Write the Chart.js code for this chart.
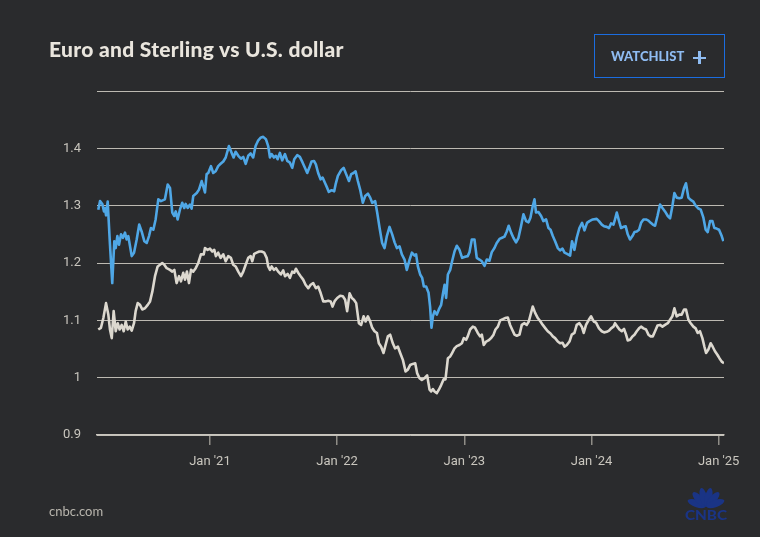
<!DOCTYPE html>
<html>
<head>
<meta charset="utf-8">
<script src="https://cdn.jsdelivr.net/npm/chart.js@4.4.1/dist/chart.umd.min.js"></script>
<style>
html,body{margin:0;padding:0;background:#2a2b2d;}
#wrap{position:relative;width:760px;height:537px;background:#2a2b2d;overflow:hidden;font-family:Lato,"Open Sans",sans-serif;}
#chart{position:absolute;left:0;top:0;}
#title{position:absolute;left:49px;top:38px;font-size:21px;line-height:21px;font-weight:900;letter-spacing:0.3px;color:#e9e5dd;white-space:nowrap;}
#btn{position:absolute;left:594px;top:34px;width:131px;height:44px;box-sizing:border-box;border:1.5px solid #1b6de0;}
#btntext{position:absolute;left:611px;top:50px;font-size:13px;line-height:13px;font-weight:900;color:#8fbcf2;white-space:nowrap;}
.plus{position:absolute;background:#8fbcf2;}
#src{position:absolute;left:49px;top:505px;font-size:13px;line-height:13px;color:#b9b6ae;}
#logo{position:absolute;left:684px;top:485px;}
</style>
</head>
<body>
<div id="wrap">
  <canvas id="chart" width="760" height="537"></canvas>
  <div id="title">Euro and Sterling vs U.S. dollar</div>
  <div id="btn"></div>
  <div id="btntext">WATCHLIST</div>
  <div class="plus" style="left:693px;top:56.5px;width:13px;height:2.5px;"></div>
  <div class="plus" style="left:698.3px;top:51px;width:2.5px;height:13px;"></div>
  <div id="src">cnbc.com</div>
  <svg id="logo" width="44" height="36" viewBox="0 0 44 36">
    <g fill="#1a3485">
      <ellipse cx="22" cy="12" rx="3.6" ry="9.5" transform="rotate(-70 22 22)"/>
      <ellipse cx="22" cy="12" rx="3.6" ry="9.5" transform="rotate(-42 22 22)"/>
      <ellipse cx="22" cy="12" rx="3.6" ry="9.5" transform="rotate(-14 22 22)"/>
      <ellipse cx="22" cy="12" rx="3.6" ry="9.5" transform="rotate(14 22 22)"/>
      <ellipse cx="22" cy="12" rx="3.6" ry="9.5" transform="rotate(42 22 22)"/>
      <ellipse cx="22" cy="12" rx="3.6" ry="9.5" transform="rotate(70 22 22)"/>
      <text x="22" y="34.5" font-family="Lato, sans-serif" font-weight="900" font-size="12.5" text-anchor="middle" textLength="42" lengthAdjust="spacingAndGlyphs">CNBC</text>
    </g>
  </svg>
</div>
<script>
// ---- data (x values are decimal years) ----
const xTickYears = [2021, 2022, 2023, 2024, 2025];
const xTickLabels = ["Jan '21", "Jan '22", "Jan '23", "Jan '24", "Jan '25"];
const yTickValues = [0.9, 1.0, 1.1, 1.2, 1.3, 1.4, 1.5];

const gbpDates = [2020.122,2020.136,2020.154,2020.167,2020.175,2020.183,2020.196,2020.214,2020.232,2020.248,2020.259,2020.272,2020.285,2020.301,2020.316,2020.332,2020.345,2020.358,2020.385,2020.403,2020.424,2020.444,2020.463,2020.484,2020.503,2020.521,2020.536,2020.555,2020.573,2020.594,2020.615,2020.646,2020.668,2020.686,2020.704,2020.720,2020.731,2020.746,2020.764,2020.782,2020.798,2020.809,2020.825,2020.843,2020.856,2020.869,2020.896,2020.914,2020.935,2020.951,2020.961,2020.974,2020.987,2021.008,2021.026,2021.045,2021.065,2021.084,2021.105,2021.124,2021.149,2021.171,2021.186,2021.202,2021.223,2021.244,2021.262,2021.281,2021.301,2021.320,2021.340,2021.359,2021.380,2021.401,2021.419,2021.440,2021.458,2021.472,2021.485,2021.503,2021.519,2021.532,2021.550,2021.568,2021.590,2021.608,2021.629,2021.647,2021.663,2021.686,2021.707,2021.729,2021.747,2021.765,2021.781,2021.799,2021.818,2021.833,2021.851,2021.870,2021.886,2021.904,2021.922,2021.935,2021.957,2021.977,2021.988,2022.006,2022.032,2022.051,2022.071,2022.093,2022.111,2022.129,2022.145,2022.163,2022.181,2022.202,2022.221,2022.242,2022.260,2022.276,2022.299,2022.315,2022.334,2022.354,2022.373,2022.391,2022.412,2022.433,2022.452,2022.470,2022.491,2022.509,2022.530,2022.548,2022.570,2022.588,2022.609,2022.621,2022.635,2022.653,2022.669,2022.682,2022.700,2022.719,2022.731,2022.742,2022.753,2022.766,2022.784,2022.800,2022.818,2022.831,2022.845,2022.857,2022.871,2022.889,2022.904,2022.923,2022.941,2022.962,2022.983,2023.006,2023.027,2023.041,2023.059,2023.080,2023.098,2023.119,2023.138,2023.159,2023.177,2023.198,2023.216,2023.237,2023.255,2023.277,2023.297,2023.316,2023.334,2023.349,2023.368,2023.386,2023.407,2023.426,2023.446,2023.465,2023.486,2023.505,2023.520,2023.538,2023.552,2023.564,2023.583,2023.604,2023.622,2023.643,2023.662,2023.678,2023.696,2023.714,2023.735,2023.753,2023.772,2023.788,2023.808,2023.832,2023.847,2023.866,2023.884,2023.905,2023.926,2023.945,2023.965,2023.984,2024.010,2024.041,2024.059,2024.081,2024.099,2024.120,2024.138,2024.154,2024.173,2024.185,2024.199,2024.217,2024.233,2024.251,2024.269,2024.285,2024.303,2024.322,2024.338,2024.356,2024.374,2024.390,2024.409,2024.429,2024.448,2024.466,2024.482,2024.500,2024.519,2024.539,2024.558,2024.578,2024.600,2024.618,2024.636,2024.652,2024.670,2024.691,2024.709,2024.728,2024.743,2024.762,2024.780,2024.801,2024.819,2024.841,2024.859,2024.880,2024.898,2024.914,2024.932,2024.951,2024.966,2024.984,2025.003,2025.024,2025.037];
const gbpValues = [1.293,1.308,1.303,1.290,1.296,1.283,1.307,1.232,1.165,1.238,1.226,1.247,1.232,1.250,1.244,1.253,1.241,1.247,1.212,1.218,1.241,1.267,1.255,1.238,1.235,1.247,1.261,1.258,1.276,1.311,1.308,1.311,1.337,1.331,1.288,1.282,1.290,1.276,1.293,1.305,1.296,1.303,1.296,1.302,1.295,1.317,1.322,1.328,1.343,1.331,1.323,1.355,1.357,1.369,1.357,1.360,1.369,1.373,1.377,1.384,1.404,1.392,1.384,1.394,1.387,1.382,1.385,1.373,1.387,1.391,1.384,1.404,1.414,1.419,1.420,1.416,1.404,1.384,1.390,1.384,1.387,1.381,1.392,1.379,1.390,1.378,1.375,1.366,1.381,1.388,1.385,1.375,1.366,1.357,1.366,1.377,1.378,1.372,1.357,1.346,1.349,1.340,1.331,1.324,1.327,1.325,1.337,1.352,1.362,1.366,1.355,1.343,1.355,1.357,1.360,1.343,1.328,1.305,1.317,1.321,1.314,1.305,1.308,1.288,1.261,1.235,1.226,1.247,1.263,1.250,1.236,1.226,1.229,1.215,1.206,1.188,1.206,1.218,1.213,1.215,1.194,1.180,1.174,1.159,1.159,1.148,1.124,1.087,1.107,1.116,1.110,1.119,1.127,1.145,1.162,1.139,1.180,1.188,1.203,1.220,1.230,1.223,1.209,1.211,1.212,1.219,1.241,1.241,1.209,1.206,1.203,1.195,1.206,1.204,1.219,1.226,1.235,1.242,1.244,1.246,1.255,1.265,1.253,1.244,1.236,1.244,1.264,1.285,1.273,1.271,1.279,1.299,1.311,1.288,1.289,1.282,1.273,1.276,1.261,1.258,1.247,1.238,1.226,1.222,1.225,1.218,1.216,1.213,1.238,1.223,1.244,1.261,1.270,1.257,1.270,1.273,1.276,1.277,1.273,1.267,1.264,1.263,1.261,1.269,1.267,1.276,1.288,1.273,1.261,1.263,1.264,1.250,1.241,1.247,1.254,1.255,1.258,1.270,1.276,1.276,1.274,1.270,1.267,1.265,1.282,1.302,1.296,1.290,1.282,1.278,1.299,1.322,1.314,1.313,1.314,1.331,1.339,1.314,1.310,1.307,1.300,1.295,1.293,1.279,1.258,1.254,1.273,1.273,1.261,1.260,1.258,1.247,1.238];

const eurDates = [2020.122,2020.143,2020.162,2020.183,2020.201,2020.214,2020.228,2020.243,2020.259,2020.275,2020.290,2020.306,2020.322,2020.338,2020.353,2020.369,2020.385,2020.403,2020.416,2020.432,2020.450,2020.468,2020.489,2020.511,2020.529,2020.547,2020.568,2020.589,2020.607,2020.625,2020.641,2020.660,2020.686,2020.704,2020.720,2020.738,2020.757,2020.772,2020.790,2020.804,2020.819,2020.835,2020.851,2020.869,2020.888,2020.908,2020.929,2020.951,2020.961,2020.982,2021.000,2021.018,2021.034,2021.047,2021.065,2021.084,2021.105,2021.124,2021.144,2021.165,2021.183,2021.202,2021.223,2021.244,2021.262,2021.281,2021.301,2021.320,2021.333,2021.348,2021.367,2021.388,2021.406,2021.427,2021.446,2021.458,2021.472,2021.485,2021.503,2021.519,2021.537,2021.558,2021.576,2021.590,2021.611,2021.629,2021.647,2021.663,2021.676,2021.694,2021.713,2021.733,2021.752,2021.773,2021.792,2021.812,2021.833,2021.851,2021.870,2021.891,2021.909,2021.930,2021.949,2021.964,2021.982,2022.001,2022.024,2022.045,2022.063,2022.079,2022.098,2022.116,2022.132,2022.150,2022.171,2022.189,2022.208,2022.224,2022.242,2022.260,2022.276,2022.294,2022.313,2022.328,2022.346,2022.365,2022.381,2022.399,2022.417,2022.438,2022.456,2022.478,2022.496,2022.517,2022.538,2022.556,2022.574,2022.595,2022.614,2022.629,2022.648,2022.666,2022.687,2022.708,2022.727,2022.739,2022.753,2022.766,2022.784,2022.800,2022.818,2022.837,2022.852,2022.871,2022.889,2022.904,2022.923,2022.941,2022.962,2022.981,2022.996,2023.014,2023.027,2023.046,2023.067,2023.085,2023.106,2023.124,2023.138,2023.153,2023.172,2023.190,2023.211,2023.230,2023.245,2023.264,2023.282,2023.303,2023.321,2023.342,2023.360,2023.376,2023.395,2023.413,2023.434,2023.452,2023.473,2023.491,2023.507,2023.525,2023.538,2023.557,2023.578,2023.599,2023.617,2023.638,2023.656,2023.678,2023.696,2023.714,2023.735,2023.753,2023.772,2023.788,2023.806,2023.827,2023.845,2023.866,2023.884,2023.905,2023.924,2023.939,2023.957,2023.979,2023.997,2024.018,2024.036,2024.059,2024.081,2024.099,2024.120,2024.138,2024.154,2024.173,2024.185,2024.204,2024.220,2024.238,2024.256,2024.272,2024.285,2024.303,2024.322,2024.338,2024.356,2024.374,2024.390,2024.409,2024.429,2024.448,2024.466,2024.482,2024.500,2024.519,2024.539,2024.558,2024.578,2024.600,2024.618,2024.636,2024.652,2024.670,2024.691,2024.709,2024.728,2024.743,2024.762,2024.780,2024.801,2024.819,2024.835,2024.853,2024.872,2024.888,2024.901,2024.919,2024.937,2024.953,2024.971,2024.990,2025.006,2025.024,2025.042];
const eurValues = [1.084,1.087,1.104,1.130,1.110,1.084,1.069,1.116,1.081,1.095,1.084,1.092,1.081,1.098,1.084,1.089,1.082,1.095,1.116,1.130,1.127,1.119,1.121,1.127,1.133,1.150,1.177,1.194,1.197,1.200,1.197,1.191,1.188,1.185,1.188,1.165,1.177,1.168,1.183,1.171,1.185,1.165,1.188,1.185,1.191,1.200,1.215,1.215,1.226,1.223,1.225,1.220,1.223,1.212,1.218,1.209,1.215,1.203,1.212,1.209,1.197,1.194,1.185,1.177,1.185,1.197,1.209,1.212,1.203,1.216,1.218,1.220,1.220,1.218,1.209,1.194,1.188,1.194,1.188,1.191,1.185,1.180,1.187,1.177,1.181,1.174,1.185,1.183,1.190,1.183,1.177,1.171,1.162,1.156,1.162,1.165,1.156,1.159,1.148,1.133,1.133,1.134,1.133,1.124,1.134,1.139,1.143,1.142,1.136,1.116,1.147,1.139,1.136,1.130,1.095,1.092,1.107,1.098,1.107,1.098,1.087,1.081,1.078,1.060,1.054,1.043,1.057,1.072,1.075,1.060,1.051,1.054,1.043,1.031,1.011,1.014,1.022,1.024,1.025,1.008,0.999,0.996,0.999,1.004,0.979,0.976,0.980,0.976,0.973,0.979,0.987,0.997,0.997,1.034,1.037,1.043,1.051,1.055,1.057,1.060,1.069,1.066,1.072,1.084,1.089,1.087,1.078,1.072,1.075,1.057,1.063,1.065,1.069,1.075,1.084,1.089,1.100,1.102,1.104,1.105,1.092,1.084,1.075,1.073,1.075,1.092,1.095,1.092,1.098,1.113,1.124,1.113,1.104,1.098,1.092,1.086,1.081,1.077,1.072,1.069,1.063,1.060,1.061,1.054,1.057,1.063,1.075,1.078,1.092,1.095,1.089,1.078,1.092,1.101,1.107,1.098,1.096,1.086,1.081,1.079,1.080,1.082,1.086,1.089,1.095,1.089,1.084,1.081,1.085,1.075,1.065,1.066,1.072,1.075,1.081,1.086,1.089,1.086,1.084,1.075,1.072,1.072,1.081,1.091,1.092,1.089,1.092,1.095,1.101,1.107,1.121,1.107,1.110,1.110,1.119,1.119,1.101,1.095,1.089,1.086,1.078,1.081,1.069,1.054,1.043,1.049,1.060,1.054,1.046,1.040,1.034,1.028,1.025];

const xMin = 2020.112, xMax = 2025.042;
const yMin = 0.9, yMax = 1.5;

const toPoints = (xs, ys) => xs.map((x, i) => ({ x: x, y: ys[i] }));
const tickFont = { family: 'Roboto, "Open Sans", sans-serif', size: 13 };
const tickColor = '#c9c6be';

new Chart(document.getElementById('chart'), {
  type: 'line',
  data: {
    datasets: [
      { label: 'GBP/USD', data: toPoints(gbpDates, gbpValues), borderColor: '#4fa7e6', borderWidth: 2.6, pointRadius: 0, tension: 0, fill: false, borderJoinStyle: 'round' },
      { label: 'EUR/USD', data: toPoints(eurDates, eurValues), borderColor: '#dcd8cf', borderWidth: 2.6, pointRadius: 0, tension: 0, fill: false, borderJoinStyle: 'round' }
    ]
  },
  options: {
    responsive: false,
    animation: false,
    devicePixelRatio: 1,
    layout: { padding: { left: 0, right: 36, top: 91, bottom: 0 } },
    plugins: { legend: { display: false }, tooltip: { enabled: false } },
    scales: {
      x: {
        type: 'linear', min: xMin, max: xMax,
        afterFit: (s) => { s.height = 102; },
        afterBuildTicks: (s) => { s.ticks = xTickYears.map(v => ({ value: v })); },
        ticks: { callback: (v, i) => xTickLabels[i], color: tickColor, font: tickFont, padding: 9, maxRotation: 0, autoSkip: false },
        grid: { drawOnChartArea: false, drawTicks: true, tickLength: 10, color: '#8f8d87', lineWidth: 1.5 },
        border: { display: true, color: '#c9c6be', width: 1.5 }
      },
      y: {
        min: yMin, max: yMax,
        afterFit: (s) => { s.width = 97; },
        afterBuildTicks: (s) => { s.ticks = yTickValues.map(v => ({ value: v })); },
        ticks: { callback: (v) => (v >= 1.45 ? '' : String(Number(v.toFixed(1)))), color: tickColor, font: tickFont, padding: 16 },
        grid: { color: '#bdbab2', lineWidth: 1, drawTicks: false },
        border: { display: false }
      }
    }
  }
});
</script>
</body>
</html>
